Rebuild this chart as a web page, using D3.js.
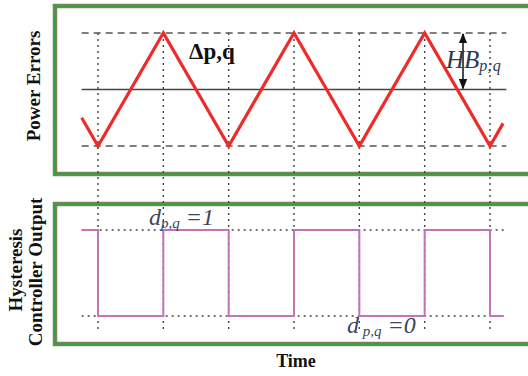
<!DOCTYPE html>
<html>
<head>
<meta charset="utf-8">
<script src="https://cdn.jsdelivr.net/npm/d3@7"></script>
<style>
  html, body { margin: 0; padding: 0; background: #fff; }
  svg { display: block; }
  text { font-family: "Liberation Serif", "Times New Roman", serif; }
</style>
</head>
<body>
<script>
// Power error (triangular) and hysteresis controller output (square wave)
const errTime = [0.75, 1, 2, 3, 4, 5, 6, 7, 7.2];
const errValue = [-0.5, -1, 1, -1, 1, -1, 1, -1, -0.6];
const outTime = [0.75, 1, 2, 3, 4, 5, 6, 7, 7.2];
const outValue = [1, 0, 1, 0, 1, 0, 1, 0, 0];
const switchTimes = [1, 2, 3, 4, 5, 6, 7];
const bandLevels = [-1, 1];
const outLevels = [0, 1];
const timeSpan = [0.75, 7.25];

const W = 528, H = 376;
const svg = d3.select("body").append("svg").attr("width", W).attr("height", H);

const x = d3.scaleLinear().domain([1, 7]).range([98, 490]);
const yErr = d3.scaleLinear().domain([-1, 1]).range([146, 33]);
const yOut = d3.scaleLinear().domain([0, 1]).range([316, 230]);

// panel frames (open on the right)
function panel(y0, h) {
  const g = svg.append("g");
  g.append("rect").attr("x", 55).attr("y", y0).attr("width", 500).attr("height", h)
    .attr("fill", "none").attr("stroke", "#8a7c6c").attr("stroke-width", 4.5);
  g.append("rect").attr("x", 55).attr("y", y0).attr("width", 500).attr("height", h)
    .attr("fill", "none").attr("stroke", "#3c9e3c").attr("stroke-width", 2.6);
}
panel(6, 168);
panel(204, 140);

// switching instants
svg.append("g").selectAll("line").data(switchTimes).join("line")
  .attr("x1", d => x(d)).attr("x2", d => x(d))
  .attr("y1", yErr(1)).attr("y2", 330)
  .attr("stroke", "#444").attr("stroke-width", 1.4).attr("stroke-dasharray", "2,4");

// hysteresis band limits
svg.append("g").selectAll("line").data(bandLevels).join("line")
  .attr("x1", x(timeSpan[0])).attr("x2", x(timeSpan[1]))
  .attr("y1", d => yErr(d)).attr("y2", d => yErr(d))
  .attr("stroke", "#555").attr("stroke-width", 1.3).attr("stroke-dasharray", "7,5");

// zero error reference
svg.append("line")
  .attr("x1", x(timeSpan[0])).attr("x2", x(timeSpan[1]))
  .attr("y1", yErr(0)).attr("y2", yErr(0))
  .attr("stroke", "#444").attr("stroke-width", 1.3);

// output levels
svg.append("g").selectAll("line").data(outLevels).join("line")
  .attr("x1", x(timeSpan[0])).attr("x2", x(timeSpan[1]))
  .attr("y1", d => yOut(d)).attr("y2", d => yOut(d))
  .attr("stroke", "#444").attr("stroke-width", 1.3).attr("stroke-dasharray", "2,4");

// triangular error
const errLine = d3.line().x((d, i) => x(errTime[i])).y(d => yErr(d));
svg.append("path").attr("d", errLine(errValue))
  .attr("fill", "none").attr("stroke", "#ee2a2a").attr("stroke-width", 3.2)
  .attr("stroke-linejoin", "miter");

// controller output
const outLine = d3.line().x((d, i) => x(outTime[i])).y(d => yOut(d)).curve(d3.curveStepAfter);
svg.append("path").attr("d", outLine(outValue))
  .attr("fill", "none").attr("stroke", "#c474b6").attr("stroke-width", 2);

// band width arrow
const defs = svg.append("defs");
defs.append("marker").attr("id", "ah").attr("viewBox", "0 0 10 10")
  .attr("refX", 9).attr("refY", 5).attr("markerWidth", 7).attr("markerHeight", 7)
  .attr("orient", "auto-start-reverse")
  .append("path").attr("d", "M0,1 L10,5 L0,9 Z").attr("fill", "#111");
svg.append("line").attr("x1", 463).attr("x2", 463)
  .attr("y1", yErr(1) + 1).attr("y2", yErr(0) - 1)
  .attr("stroke", "#111").attr("stroke-width", 1.5)
  .attr("marker-start", "url(#ah)").attr("marker-end", "url(#ah)");

// labels
svg.append("text").attr("x", 189).attr("y", 59)
  .attr("font-size", 23).attr("font-weight", "bold").attr("fill", "#111")
  .text("Δp,q");

const hb = svg.append("text").attr("x", 446).attr("y", 68)
  .attr("font-size", 25).attr("font-style", "italic").attr("fill", "#2a3852");
hb.append("tspan").text("HB");
hb.append("tspan").attr("font-size", 16).attr("dy", 3).text("p;q");

const d1 = svg.append("text").attr("x", 149).attr("y", 225)
  .attr("font-size", 24).attr("font-style", "italic").attr("fill", "#3a4560");
d1.append("tspan").text("d");
d1.append("tspan").attr("font-size", 15).attr("dy", 3).text("p,q");
d1.append("tspan").attr("dy", -3).text(" =1");

const d0 = svg.append("text").attr("x", 347).attr("y", 333)
  .attr("font-size", 24).attr("font-style", "italic").attr("fill", "#3a4560");
d0.append("tspan").text("d");
d0.append("tspan").attr("font-size", 15).attr("dy", 3).text(" p,q");
d0.append("tspan").attr("dy", -3).text(" =0");

svg.append("text").attr("x", 296).attr("y", 367).attr("text-anchor", "middle")
  .attr("font-size", 18).attr("font-weight", "bold").attr("fill", "#111").text("Time");

svg.append("text").attr("transform", "translate(40,86) rotate(-90)")
  .attr("text-anchor", "middle").attr("font-size", 19).attr("font-weight", "bold")
  .attr("fill", "#111").text("Power Errors");

svg.append("text").attr("transform", "translate(22,270) rotate(-90)")
  .attr("text-anchor", "middle").attr("font-size", 19).attr("font-weight", "bold")
  .attr("fill", "#111").text("Hysteresis");
svg.append("text").attr("transform", "translate(42,272) rotate(-90)")
  .attr("text-anchor", "middle").attr("font-size", 19).attr("font-weight", "bold")
  .attr("fill", "#111").text("Controller Output");
</script>
</body>
</html>
